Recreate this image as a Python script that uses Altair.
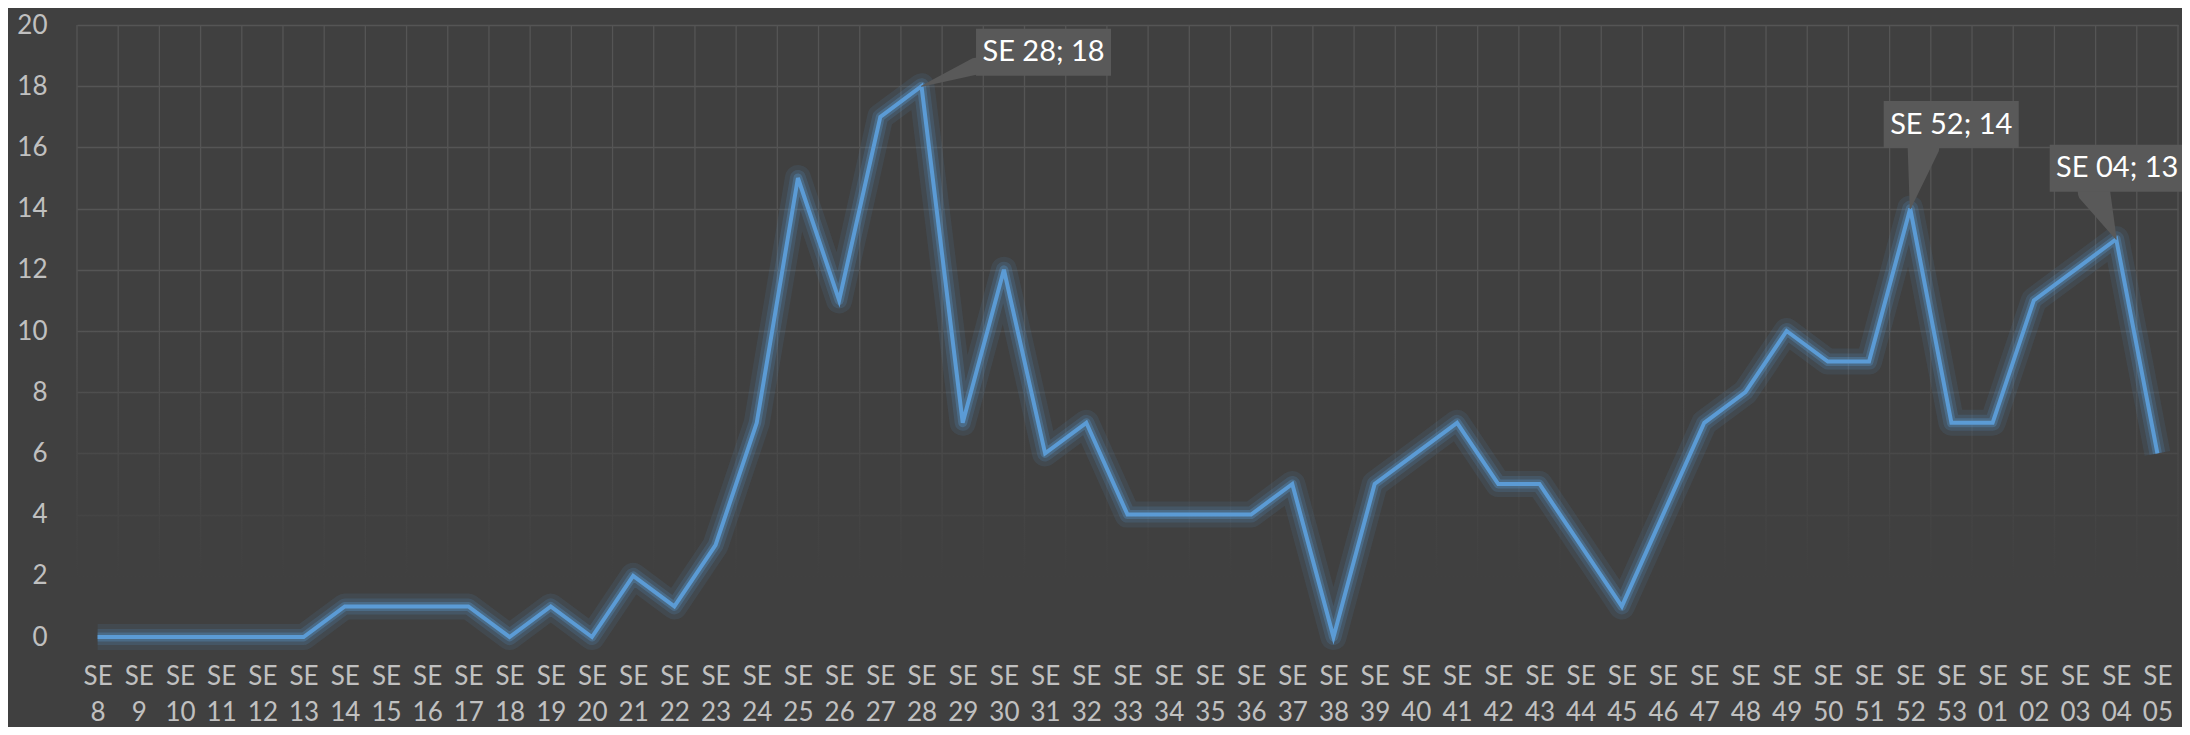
import altair as alt
import pandas as pd

# ---- data ----
weeks = ["8", "9", "10", "11", "12", "13", "14", "15", "16", "17", "18", "19", "20",
         "21", "22", "23", "24", "25", "26", "27", "28", "29", "30", "31", "32", "33",
         "34", "35", "36", "37", "38", "39", "40", "41", "42", "43", "44", "45", "46",
         "47", "48", "49", "50", "51", "52", "53", "01", "02", "03", "04", "05"]
values = [0, 0, 0, 0, 0, 0, 1, 1, 1, 1, 0, 1, 0,
          2, 1, 3, 7, 15, 11, 17, 18, 7, 12, 6, 7, 4,
          4, 4, 4, 5, 0, 5, 6, 7, 5, 5, 3, 1, 4,
          7, 8, 10, 9, 9, 14, 7, 7, 11, 12, 13, 6]
y_ticks = [0, 2, 4, 6, 8, 10, 12, 14, 16, 18, 20]
callout_weeks = ["28", "52", "04"]
# pixel offsets (box centre, pointer base, pointer width) relative to the point
callout_box_off = [(122, -34), (41, -84), (1, -71)]
callout_base_off = [(54, -20), (13, -61), (-22, -48)]
callout_base_w = [17, 32, 33]

# ---- style ----
BG = "#404040"
GRID = "#555555"
LINE = "#5b9bd5"
LABEL = "#c0c0c0"
BOX = "#595959"
FONT = "Lato"
W, H = 2101, 612
N = len(weeks)
PXX = W / N
PXY = H / 20.0
BOX_HW, BOX_HH = 67.5, 23.5

df = pd.DataFrame({"idx": list(range(N)), "week": weeks, "value": values})
bounds = pd.DataFrame({"b": [i - 0.5 for i in range(N + 1)]})

boxes, trails = [], []
for k, w in enumerate(callout_weeks):
    i = weeks.index(w)
    v = values[i]
    bx, by = callout_box_off[k]
    cx = i + bx / PXX
    cy = v - by / PXY
    boxes.append({"x": cx - BOX_HW / PXX, "x2": cx + BOX_HW / PXX,
                  "y": cy + BOX_HH / PXY, "y2": cy - BOX_HH / PXY,
                  "cx": cx, "cy": cy, "text": f"SE {w}; {v}"})
    px, py = callout_base_off[k]
    trails.append({"g": k, "o": 0, "x": i + px / PXX, "y": v - py / PXY, "s": callout_base_w[k]})
    trails.append({"g": k, "o": 1, "x": i, "y": v, "s": 0})
boxes = pd.DataFrame(boxes)
trails = pd.DataFrame(trails)

label_expr = "['SE', split('" + ",".join(weeks) + "', ',')[datum.value]]"

xscale = alt.Scale(domain=[-0.5, N - 0.5], nice=False, zero=False)
yscale = alt.Scale(domain=[0, 20], nice=False)

xaxis = alt.Axis(values=list(range(N)), labelExpr=label_expr, grid=False, domain=False,
                 ticks=False, labelAngle=0, labelOverlap=False, labelFlush=False,
                 labelFont=FONT, labelFontSize=26, labelColor=LABEL, labelPadding=26,
                 labelLineHeight=36, labelBaseline="top", title=None)
yaxis = alt.Axis(values=y_ticks, grid=True, gridColor=GRID, gridWidth=1.3, domain=False,
                 ticks=False, labelFont=FONT, labelFontSize=26, labelColor=LABEL,
                 labelPadding=30, title=None)

vgrid = alt.Chart(bounds).mark_rule(color=GRID, strokeWidth=1.3).encode(
    x=alt.X("b:Q", scale=xscale, axis=xaxis),
    y=alt.value(0), y2=alt.value(H))

fade = alt.Chart(pd.DataFrame({"a": [0]})).mark_rect(
    color=alt.Gradient(gradient="linear",
                       stops=[alt.GradientStop(color="rgba(64,64,64,0)", offset=0),
                              alt.GradientStop(color="rgba(64,64,64,0.6)", offset=0.45),
                              alt.GradientStop(color="rgba(64,64,64,1)", offset=0.8),
                              alt.GradientStop(color="rgba(64,64,64,1)", offset=1)],
                       x1=0, x2=0, y1=0, y2=1)
).encode(x=alt.value(-2), x2=alt.value(W + 2),
         y=alt.datum(10.5, scale=yscale, axis=yaxis), y2=alt.datum(-0.2))

base = alt.Chart(df).encode(
    x=alt.X("idx:Q", scale=xscale, axis=xaxis),
    y=alt.Y("value:Q", scale=yscale, axis=yaxis))

glow1 = base.mark_line(color=LINE, strokeWidth=26, opacity=0.10, strokeJoin="round")
glow2 = base.mark_line(color=LINE, strokeWidth=16, opacity=0.17, strokeJoin="round")
glow3 = base.mark_line(color=LINE, strokeWidth=9, opacity=0.30, strokeJoin="round")
main = base.mark_line(color=LINE, strokeWidth=4, strokeJoin="miter")

pointer = alt.Chart(trails).mark_trail(color=BOX).encode(
    x=alt.X("x:Q", scale=xscale, axis=xaxis), y=alt.Y("y:Q", scale=yscale, axis=yaxis),
    size=alt.Size("s:Q", scale=None, legend=None),
    detail="g:N", order="o:Q")

box = alt.Chart(boxes).mark_rect(color=BOX).encode(
    x=alt.X("x:Q", scale=xscale, axis=xaxis), x2="x2:Q",
    y=alt.Y("y:Q", scale=yscale, axis=yaxis), y2="y2:Q")

box_text = alt.Chart(boxes).mark_text(font=FONT, fontSize=29, color="#ffffff",
                                      align="center", baseline="middle").encode(
    x=alt.X("cx:Q", scale=xscale, axis=xaxis), y=alt.Y("cy:Q", scale=yscale, axis=yaxis),
    text="text:N")

chart = alt.layer(vgrid, fade, glow1, glow2, glow3, main, pointer, box, box_text).properties(
    width=W, height=H,
    background=BG,
    padding={"left": 69, "top": 17, "right": 4, "bottom": 90},
    autosize=alt.AutoSizeParams(type="none"),
).configure_view(stroke=None)

chart.save("out.html", embed_options={"renderer": "svg", "actions": False})
